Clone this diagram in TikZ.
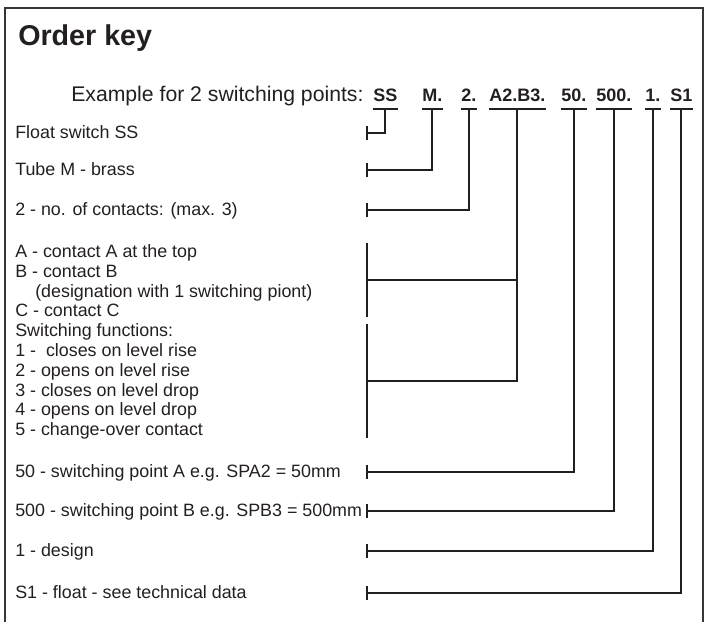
\documentclass[tikz,border=0pt]{standalone}
\usepackage{fontspec}
\setmainfont{Liberation Sans}
\definecolor{ink}{HTML}{231F20}
\begin{document}
\begin{tikzpicture}[x=0.75pt,y=-0.75pt,
  lbl/.style={anchor=base west, inner sep=0pt, text=ink, font=\fontsize{13.4}{15}\selectfont},
  code/.style={anchor=base west, inner sep=0pt, text=ink, font=\fontsize{13.5}{15}\selectfont\bfseries},
  conn/.style={draw=ink, line width=1.5pt},
  frame/.style={draw=ink!90, line width=1pt}]
\useasboundingbox (0,0) rectangle (709,621);
\draw[frame] (5,630) -- (5,8) -- (703,8) -- (703,630);

% title and example
\node[anchor=base west, inner sep=0pt, text=ink, font=\fontsize{21.5}{24}\selectfont\bfseries] (title) at (18,45) {Order key};
\node[anchor=base west, inner sep=0pt, text=ink, font=\fontsize{15.9}{18}\selectfont] (ex) at (71,101) {Example for 2 switching points:};

% codes
\node[code] (cSS) at (373,101) {SS};
\node[code] (cM) at (422,101) {M.};
\node[code] (c2) at (461,101) {2.};
\node[code] (cAB) at (489,101) {A2.B3.};
\node[code] (c50) at (561,101) {50.};
\node[code] (c500) at (596,101) {500.};
\node[code] (c1) at (645,101) {1.};
\node[code] (cS1) at (670,101) {S1};

\foreach \c in {cSS,cM,c2,cAB,c50,c500,c1,cS1}{
  \draw[conn] ([yshift=-6.3pt]\c.base west) -- ([yshift=-6.3pt]\c.base east);
}

% labels
\node[lbl] (lSS) at (15,138) {Float switch SS};
\node[lbl] (lM) at (15,175) {Tube M - brass};
\node[lbl] (l2) at (15,215) {2 - no. of contacts: (max. 3)};
\node[lbl] (lA) at (15,257) {A - contact A at the top};
\node[lbl] (lB) at (15,277) {B - contact B};
\node[lbl] (lD) at (35,297) {(designation with 1 switching piont)};
\node[lbl] (lC) at (15,316) {C - contact C};
\node[lbl] (lF) at (15,336) {Switching functions:};
\node[lbl] (lF1) at (15,356) {1 - \ closes on level rise};
\node[lbl] (lF2) at (15,376) {2 - opens on level rise};
\node[lbl] (lF3) at (15,396) {3 - closes on level drop};
\node[lbl] (lF4) at (15,415) {4 - opens on level drop};
\node[lbl] (lF5) at (15,435) {5 - change-over contact};
\node[lbl] (l50) at (15,477) {50 - switching point A e.g. SPA2 = 50mm};
\node[lbl] (l500) at (15,516) {500 - switching point B e.g. SPB3 = 500mm};
\node[lbl] (l1) at (15,556) {1 - design};
\node[lbl] (lS1) at (15,598) {S1 - float - see technical data};

% tick coordinates
\coordinate (tSS) at (367,133);
\coordinate (tM) at (367,170);
\coordinate (t2) at (367,210);
\coordinate (t50) at (367,472);
\coordinate (t500) at (367,511);
\coordinate (t1) at (367,551);
\coordinate (tS1) at (367,593);
\foreach \t in {tSS,tM,t2,t50,t500,t1,tS1}{
  \draw[conn] ([yshift=5.5pt]\t) -- ([yshift=-5.5pt]\t);
}
% bars for A/B/C block
\coordinate (b1top) at (367,243);
\coordinate (b1bot) at (367,317);
\coordinate (b1mid) at (367,280);
\coordinate (b2top) at (367,324);
\coordinate (b2bot) at (367,438);
\coordinate (b2mid) at (367,381);
\draw[conn] (b1top) -- (b1bot);
\draw[conn] (b2top) -- (b2bot);

% connectors
\draw[conn] ([yshift=-6.3pt]cSS.base) |- (tSS);
\draw[conn] ([yshift=-6.3pt]cM.base) |- (tM);
\draw[conn] ([yshift=-6.3pt]c2.base) |- (t2);
\draw[conn] ([yshift=-6.3pt]cAB.base) |- (b2mid);
\draw[conn] (b1mid) -- (b1mid -| cAB.base);
\draw[conn] ([yshift=-6.3pt]c50.base) |- (t50);
\draw[conn] ([yshift=-6.3pt]c500.base) |- (t500);
\draw[conn] ([yshift=-6.3pt]c1.base) |- (t1);
\draw[conn] ([yshift=-6.3pt]cS1.base) |- (tS1);
\end{tikzpicture}
\end{document}
